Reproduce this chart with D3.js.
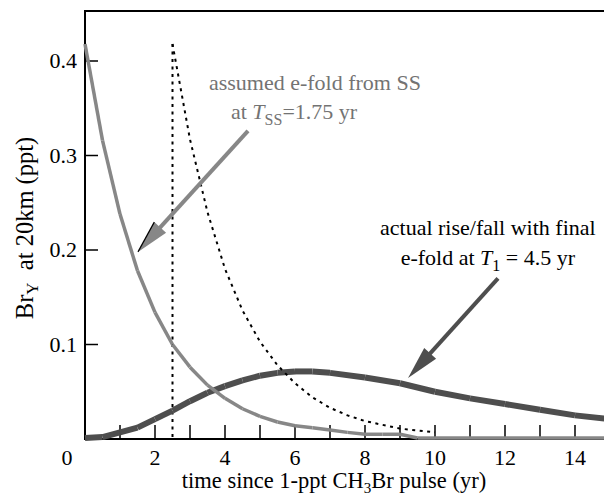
<!DOCTYPE html>
<html>
<head>
<meta charset="utf-8">
<script src="https://cdn.jsdelivr.net/npm/d3@7"></script>
<style>
  html, body { margin: 0; padding: 0; background: #fff; }
  svg { display: block; }
</style>
</head>
<body>
<svg id="chart" width="604" height="501" font-family="Liberation Serif, Tinos, Times New Roman, serif"></svg>
<script>
// values (time in yr, Br_Y in ppt)
const ssTimes = [0, 0.5, 1, 1.5, 2, 2.5, 3, 3.5, 4, 4.5, 5, 5.5, 6, 6.5, 7, 7.5, 8, 8.5, 9, 9.5, 10, 11, 12, 13, 14, 15];
const ssValues = [0.418, 0.316, 0.238, 0.178, 0.134, 0.100, 0.076, 0.057, 0.043, 0.032, 0.024, 0.018, 0.014, 0.012, 0.0095, 0.007, 0.005, 0.005, 0.005, 0.001, 0.001, 0.001, 0.001, 0.001, 0.001, 0.001];

const actualTimes = [0, 0.5, 1, 1.5, 2, 2.5, 3, 3.5, 4, 4.5, 5, 5.5, 6, 6.5, 7, 8, 9, 10, 11, 12, 13, 14, 15];
const actualValues = [0.001, 0.002, 0.007, 0.012, 0.021, 0.030, 0.040, 0.049, 0.056, 0.062, 0.067, 0.070, 0.0715, 0.0715, 0.070, 0.065, 0.059, 0.050, 0.043, 0.037, 0.031, 0.025, 0.021];

const shiftedTimes = [2.5, 3, 3.5, 4, 4.5, 5, 5.5, 6, 6.5, 7, 7.5, 8, 8.5, 9, 9.5, 10];
const shiftedValues = [0.418, 0.317, 0.240, 0.180, 0.136, 0.103, 0.078, 0.059, 0.044, 0.033, 0.025, 0.019, 0.015, 0.011, 0.009, 0.007];

const pulseStart = 2.5;

const xTickLabels = [0, 2, 4, 6, 8, 10, 12, 14];
const xMinorTicks = [1, 2, 3, 4, 5, 6, 7, 8, 9, 10, 11, 12, 13, 14];
const yTickLabels = [0.1, 0.2, 0.3, 0.4];

const serif = "Liberation Serif, Tinos, Times New Roman, serif";
const svg = d3.select("#chart");
const margin = { left: 85, top: 11, bottom: 439 };

const x = d3.scaleLinear().domain([0, 15]).range([margin.left, margin.left + 15 * 35]);
const y = d3.scaleLinear().domain([0, 0.4]).range([margin.bottom, margin.bottom - 378]);

const grayCol = "#878787";
const darkCol = "#4e4e4e";
const grayText = "#737373";

function toPoints(ts, vs) {
  return ts.map((t, i) => [t, vs[i]]);
}

const line = d3.line().x(d => x(d[0])).y(d => y(d[1]));

// curve drawn segment by segment, gives the little seams of the original
function drawSegments(pts, color, width) {
  const g = svg.append("g");
  for (let i = 0; i < pts.length - 1; i++) {
    g.append("path")
      .attr("d", line([pts[i], pts[i + 1]]))
      .attr("fill", "none")
      .attr("stroke", color)
      .attr("stroke-width", width)
      .attr("stroke-linecap", "butt");
  }
}

// frame
const right = 610;
svg.append("path")
  .attr("d", `M${right},${margin.top}H${margin.left}V${margin.bottom}H${right}`)
  .attr("fill", "none")
  .attr("stroke", "#000")
  .attr("stroke-width", 2);

// ticks (inward)
svg.append("g").selectAll("line")
  .data(xMinorTicks)
  .enter().append("line")
  .attr("x1", d => x(d)).attr("x2", d => x(d))
  .attr("y1", margin.bottom).attr("y2", margin.bottom - 14)
  .attr("stroke", "#000").attr("stroke-width", 1.5);

svg.append("g").selectAll("line")
  .data(yTickLabels)
  .enter().append("line")
  .attr("x1", margin.left).attr("x2", margin.left + 13)
  .attr("y1", d => y(d)).attr("y2", d => y(d))
  .attr("stroke", "#000").attr("stroke-width", 1.5);

svg.append("g").selectAll("text")
  .data(xTickLabels)
  .enter().append("text")
  .attr("x", d => d === 0 ? x(d) - 18 : x(d))
  .attr("y", 465)
  .attr("text-anchor", "middle")
  .attr("font-size", 22)
  .text(d => d);

svg.append("g").selectAll("text")
  .data(yTickLabels)
  .enter().append("text")
  .attr("x", margin.left - 8)
  .attr("y", d => y(d))
  .attr("dy", "0.34em")
  .attr("text-anchor", "end")
  .attr("font-size", 22)
  .text(d => d3.format(".1f")(d));

// axis titles
const xt = svg.append("text")
  .attr("x", 334).attr("y", 488)
  .attr("text-anchor", "middle")
  .attr("font-size", 22.5);
xt.append("tspan").text("time since 1-ppt CH");
xt.append("tspan").attr("font-size", 15).attr("dy", 5).text("3");
xt.append("tspan").attr("dy", -5).text("Br pulse (yr)");

const yt = svg.append("text")
  .attr("transform", "translate(33,228) rotate(-90)")
  .attr("text-anchor", "middle")
  .attr("font-size", 24.5);
yt.append("tspan").text("Br");
yt.append("tspan").attr("font-size", 17).attr("dy", 5).text("Y");
yt.append("tspan").attr("dy", -5).text("\u00a0 at 20km (ppt)");

// curves
svg.append("line")
  .attr("x1", x(pulseStart)).attr("x2", x(pulseStart))
  .attr("y1", y(shiftedValues[0])).attr("y2", y(0))
  .attr("stroke", "#000").attr("stroke-width", 2)
  .attr("stroke-dasharray", "3,4.5");

drawSegments(toPoints(actualTimes, actualValues), darkCol, 6);

svg.append("path")
  .attr("d", line(toPoints(shiftedTimes, shiftedValues)))
  .attr("fill", "none")
  .attr("stroke", "#000").attr("stroke-width", 2)
  .attr("stroke-dasharray", "3,4.5");

drawSegments(toPoints(ssTimes, ssValues), grayCol, 3.5);

// annotations
function arrow(from, to, color, edge) {
  const x0 = x(from[0]), y0 = y(from[1]), x1 = x(to[0]), y1 = y(to[1]);
  const len = Math.hypot(x1 - x0, y1 - y0);
  const ux = (x1 - x0) / len, uy = (y1 - y0) / len;
  const bx = x1 - ux * 33, by = y1 - uy * 33;
  const px = -uy * 8, py = ux * 8;
  svg.append("line")
    .attr("x1", x0).attr("y1", y0).attr("x2", bx + ux * 2).attr("y2", by + uy * 2)
    .attr("stroke", color).attr("stroke-width", 4);
  svg.append("path")
    .attr("d", `M${x1},${y1}L${bx + px},${by + py}L${bx - px},${by - py}Z`)
    .attr("fill", color);
  if (edge) {
    svg.append("path")
      .attr("d", `M${bx + px},${by + py}L${x1},${y1}`)
      .attr("stroke", "#000").attr("stroke-width", 1.2).attr("fill", "none");
  }
}

arrow([4.657, 0.326], [1.514, 0.198], grayCol, true);
arrow([11.8, 0.170], [9.23, 0.0646], darkCol, false);

svg.append("text")
  .attr("x", x(3.54)).attr("y", 90)
  .attr("font-size", 22).attr("fill", grayText)
  .text("assumed e-fold from SS");
const g2 = svg.append("text")
  .attr("x", x(4.17)).attr("y", 119)
  .attr("font-size", 22).attr("fill", grayText);
g2.append("tspan").text("at ");
g2.append("tspan").attr("font-style", "italic").text("T");
g2.append("tspan").attr("font-size", 16).attr("dy", 6).text("SS");
g2.append("tspan").attr("dy", -6).text("=1.75 yr");

svg.append("text")
  .attr("x", x(11.51)).attr("y", 235)
  .attr("text-anchor", "middle")
  .attr("font-size", 22)
  .text("actual rise/fall with final");
const b2 = svg.append("text")
  .attr("x", x(11.51)).attr("y", 265)
  .attr("text-anchor", "middle")
  .attr("font-size", 22);
b2.append("tspan").text("e-fold at ");
b2.append("tspan").attr("font-style", "italic").text("T");
b2.append("tspan").attr("font-size", 16).attr("dy", 6).text("1");
b2.append("tspan").attr("dy", -6).text(" = 4.5 yr");

svg.selectAll("text").attr("font-family", serif);
</script>
</body>
</html>
